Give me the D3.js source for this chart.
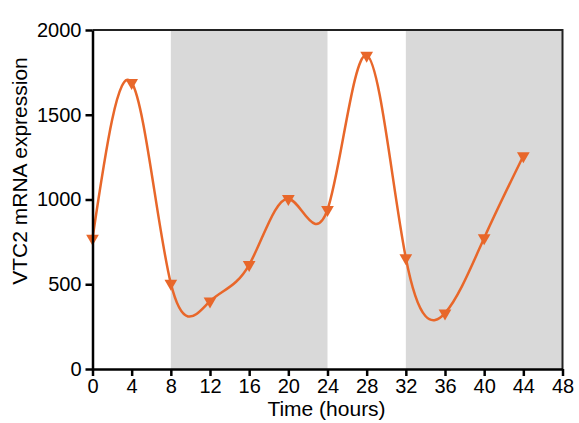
<!DOCTYPE html>
<html>
<head>
<meta charset="utf-8">
<script src="https://cdn.jsdelivr.net/npm/d3@7"></script>
<style>
body{margin:0;background:#fff;}
svg{display:block;font-family:"Liberation Sans",Arial,sans-serif;}
</style>
</head>
<body>
<div class="canvas"></div>
<script>
const hours = [0,4,8,12,16,20,24,28,32,36,40,44];
const expression = [770,1690,505,400,615,1005,940,1850,655,330,773,1257];
const darkPeriods = [[8,24],[32,48]];
const xTicks = [0,4,8,12,16,20,24,28,32,36,40,44,48];
const yTicks = [0,500,1000,1500,2000];

const canvasWidth=579, canvasHeight=423;
const plotLeft=92.5, plotRight=562.5, plotTop=30, plotBottom=369;

const xScale = d3.scaleLinear().domain([0,48]).range([plotLeft,plotRight]);
const yScale = d3.scaleLinear().domain([0,2000]).range([plotBottom,plotTop]);

const svg = d3.select(".canvas").append("svg")
  .attr("width",canvasWidth).attr("height",canvasHeight);

// shaded dark periods
svg.selectAll("rect.dark").data(darkPeriods).enter().append("rect")
  .attr("class","dark")
  .attr("x",d=>xScale(d[0])).attr("y",plotTop)
  .attr("width",d=>xScale(d[1])-xScale(d[0]))
  .attr("height",plotBottom-plotTop)
  .attr("fill","#d9d9d9");

// frame top/right
svg.append("path")
  .attr("d",`M${plotLeft},${plotTop}H${plotRight}V${plotBottom}`)
  .attr("fill","none").attr("stroke","#222").attr("stroke-width",2);

const line = d3.line()
  .x((d,i)=>xScale(hours[i]))
  .y(d=>yScale(d))
  .curve(d3.curveNatural);

svg.append("path").datum(expression)
  .attr("d",line)
  .attr("fill","none").attr("stroke","#e8672a").attr("stroke-width",2.5);

const tri = d3.symbol().type(d3.symbolTriangle).size(70);
svg.selectAll("path.pt").data(expression).enter().append("path")
  .attr("class","pt")
  .attr("d",tri)
  .attr("transform",(d,i)=>`translate(${xScale(hours[i])},${yScale(d)}) rotate(180)`)
  .attr("fill","#e8672a");

const xAxis = d3.axisBottom(xScale).tickValues(xTicks).tickFormat(d3.format("d"))
  .tickSize(7).tickPadding(3).tickSizeOuter(0);
const yAxis = d3.axisLeft(yScale).tickValues(yTicks).tickFormat(d3.format("d"))
  .tickSize(7).tickPadding(4).tickSizeOuter(0);

const gx = svg.append("g").attr("transform",`translate(0,${plotBottom})`).call(xAxis);
const gy = svg.append("g").attr("transform",`translate(${plotLeft},0)`).call(yAxis);
[gx,gy].forEach(g=>{
  g.selectAll("path.domain,line").attr("stroke","#000").attr("stroke-width",2.5);
  g.selectAll("text").attr("font-size",20).attr("fill","#000")
   .attr("font-family","Liberation Sans, Arial, sans-serif");
});

svg.append("text")
  .attr("x",(plotLeft+plotRight)/2-1).attr("y",416)
  .attr("text-anchor","middle").attr("font-size",21)
  .text("Time (hours)");

svg.append("text")
  .attr("transform",`translate(27,171) rotate(-90)`)
  .attr("text-anchor","middle").attr("font-size",21)
  .text("VTC2 mRNA expression");
</script>
</body>
</html>
